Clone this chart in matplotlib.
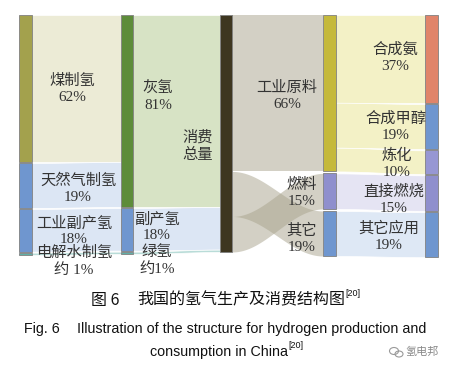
import numpy as np
import matplotlib.pyplot as plt
from matplotlib.patches import Rectangle, Ellipse

# hydrogen production / consumption structure (percent)
prod_names = ["煤制氢", "天然气制氢", "工业副产氢", "电解水制氢"]
prod_pct = [62, 19, 18, 1]
prod_txt = ["62%", "19%", "18%", "约 1%"]

type_names = ["灰氢", "副产氢", "绿氢"]
type_pct = [81, 18, 1]
type_txt = ["81%", "18%", "约1%"]

total_name = "消费\n总量"
total_pct = [100]

use_names = ["工业原料", "燃料", "其它"]
use_pct = [66, 15, 19]
use_txt = ["66%", "15%", "19%"]

app_names = ["合成氨", "合成甲醇", "炼化", "直接燃烧", "其它应用"]
app_pct = [37, 19, 10, 15, 19]
app_txt = ["37%", "19%", "10%", "15%", "19%"]

# links: source, target, value (order sets stacking inside a node)
links = [
    ("煤制氢", "灰氢", 62), ("天然气制氢", "灰氢", 19),
    ("工业副产氢", "副产氢", 18), ("电解水制氢", "绿氢", 1),
    ("灰氢", "total", 81), ("副产氢", "total", 18), ("绿氢", "total", 1),
    ("total", "工业原料", 66), ("total", "其它", 19), ("total", "燃料", 15),
    ("工业原料", "合成氨", 37), ("工业原料", "合成甲醇", 19), ("工业原料", "炼化", 10),
    ("燃料", "直接燃烧", 15), ("其它", "其它应用", 19),
]

node_color = {
    "煤制氢": "#a3a14d", "天然气制氢": "#6f96cf", "工业副产氢": "#6f96cf", "电解水制氢": "#5fb0a8",
    "灰氢": "#5d8c3a", "副产氢": "#6f96cf", "绿氢": "#5fb0a8", "total": "#3e3620",
    "工业原料": "#c5b93b", "燃料": "#8f8fcd", "其它": "#6f96cf",
    "合成氨": "#e0846a", "合成甲醇": "#6f96cf", "炼化": "#9797d3", "直接燃烧": "#8f8fcd", "其它应用": "#6f96cf",
}
link_color = {
    "煤制氢": "#ecebd6", "天然气制氢": "#dce6f4", "工业副产氢": "#dce6f4", "电解水制氢": "#b9dcd8",
    "灰氢": "#d7e3c5", "副产氢": "#dce6f4", "绿氢": "#b9dcd8",
    "total": "#a8a38c", "工业原料": "#f3f1c6", "燃料": "#e5e4f3", "其它": "#dee8f5",
}

# layout (pixels)
TOP = 15
K = 2.37
col_x = [19, 121, 220, 323, 425]
col_w = [13, 12, 12, 13, 13]
col_gap = [1, 1, 0, 2, 1.3]

fig = plt.figure(figsize=(4.53, 3.71), dpi=100)
ax = fig.add_axes([0, 0, 1, 1])
ax.set_xlim(0, 453)
ax.set_ylim(371, 0)
ax.axis("off")

columns = [(prod_names, prod_pct), (type_names, type_pct), (["total"], total_pct),
           (use_names, use_pct), (app_names, app_pct)]
nodes = {}
for c, (names, vals) in enumerate(columns):
    y = TOP
    for n, v in zip(names, vals):
        nodes[n] = dict(x0=col_x[c], x1=col_x[c] + col_w[c], y0=y, y1=y + v * K)
        y += v * K + col_gap[c]

# draw links
src_cur = {n: nodes[n]["y0"] for n in nodes}
dst_cur = {n: nodes[n]["y0"] for n in nodes}
for s, t, v in links:
    h = v * K
    a0 = src_cur[s]; src_cur[s] += h
    b0 = dst_cur[t]; dst_cur[t] += h
    xs = np.linspace(nodes[s]["x1"], nodes[t]["x0"], 80)
    u = (xs - xs[0]) / (xs[-1] - xs[0])
    sm = (1 - np.cos(np.pi * u)) / 2
    top = a0 + (b0 - a0) * sm
    if s == "total":
        ax.fill_between(xs, top, top + h, color=link_color[s], alpha=0.5, lw=0, zorder=1)
    else:
        ax.fill_between(xs, top, top + h, facecolor=link_color[s], edgecolor="white", lw=0.5, zorder=1)

for n, d in nodes.items():
    ax.add_patch(Rectangle((d["x0"], d["y0"]), d["x1"] - d["x0"], d["y1"] - d["y0"],
                           facecolor=node_color[n], edgecolor="#808080", lw=0.6, zorder=3))

# labels: x center, y shift from node middle
lab_font = ["Liberation Serif", "Noto Sans CJK SC"]
label_pos = {
    "煤制氢": (72, 0), "天然气制氢": (78, 3), "工业副产氢": (74, 1), "电解水制氢": (74, 8),
    "灰氢": (158, -14), "副产氢": (157, -2), "绿氢": (157, 8),
    "工业原料": (287, 3), "燃料": (302, 2), "其它": (302, 5),
    "合成氨": (395, -1), "合成甲醇": (396, 0), "炼化": (397, 2), "直接燃烧": (394, 7), "其它应用": (389, 2),
}
texts = dict(zip(prod_names + type_names + use_names + app_names,
                 prod_txt + type_txt + use_txt + app_txt))
for n, (lx, dy) in label_pos.items():
    d = nodes[n]
    ym = (d["y0"] + d["y1"]) / 2 + dy
    ax.text(lx, ym, n + "\n" + texts[n], ha="center", va="center", fontsize=11,
            family=lab_font, color="#333333", linespacing=1.3, zorder=5)
ax.text(198, 146, total_name, ha="center", va="center", fontsize=11,
        family=lab_font, color="#333333", linespacing=1.3, zorder=5)

# caption
cjk = ["Noto Sans CJK SC", "DejaVu Sans"]
fig.canvas.draw()
r = fig.canvas.get_renderer()
inv = ax.transData.inverted()


def sup_after(t, dy, s):
    bb = t.get_window_extent(r)
    x = inv.transform((bb.x1, bb.y1))[0]
    ax.text(x + 0.5, dy, s, ha="left", va="center", fontsize=6.5,
            family="Liberation Sans", color="#111111")


ax.text(91, 300, "图 6", ha="left", va="center", fontsize=11.5, family=cjk, color="#111111")
t1 = ax.text(137, 300, "我国的氢气生产及消费结构图", ha="left", va="center", fontsize=11.5,
             family=cjk, color="#111111")
sup_after(t1, 293, "[20]")
ax.text(24, 329, "Fig. 6", ha="left", va="center", fontsize=10.3, family="Liberation Sans", color="#111111")
ax.text(77, 329, "Illustration of the structure for hydrogen production and", ha="left", va="center",
        fontsize=10.3, family="Liberation Sans", color="#111111")
t2 = ax.text(150, 352, "consumption in China", ha="left", va="center", fontsize=10.3,
             family="Liberation Sans", color="#111111")
sup_after(t2, 346, "[20]")

# watermark
ax.add_patch(Ellipse((394, 351), 9, 7, fill=False, edgecolor="#9a9a9a", lw=0.8))
ax.add_patch(Ellipse((399, 354), 8, 6, fill=False, edgecolor="#9a9a9a", lw=0.8))
ax.text(405, 352, "氢电邦", ha="left", va="center", fontsize=8, family=cjk, color="#8a8a8a")

fig.savefig("out.png", dpi=100)
